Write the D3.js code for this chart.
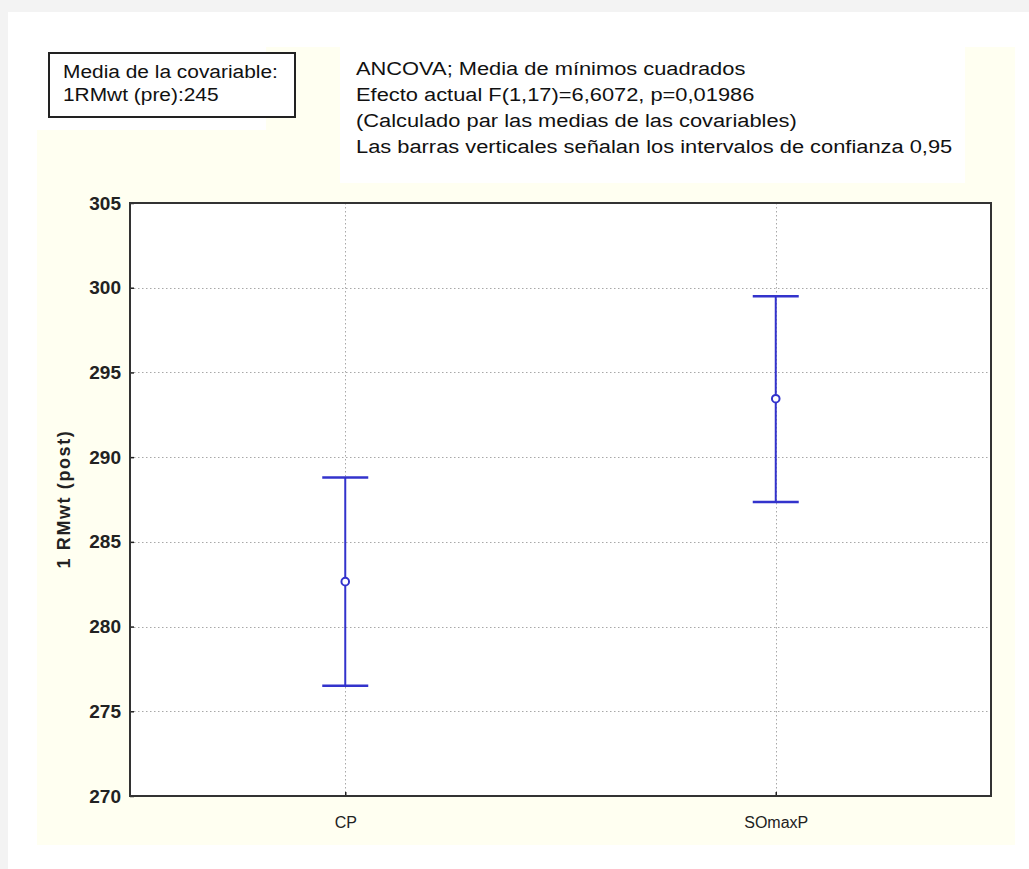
<!DOCTYPE html>
<html>
<head>
<meta charset="utf-8">
<script src="https://cdn.jsdelivr.net/npm/d3@7"></script>
<style>
  html, body { margin: 0; padding: 0; background: #f3f3f3; }
  svg { display: block; }
</style>
</head>
<body>
<svg id="chart" width="1029" height="869"></svg>
<script>
// Least-squares means with 95% confidence intervals
const categories = ["CP", "SOmaxP"];
const means = [282.65, 293.45];
const lowerCI = [276.5, 287.35];
const upperCI = [288.8, 299.5];
const yTicks = [270, 275, 280, 285, 290, 295, 300, 305];
const yLabel = "1 RMwt (post)";
const infoLines = [
  "ANCOVA; Media de mínimos cuadrados",
  "Efecto actual F(1,17)=6,6072, p=0,01986",
  "(Calculado par las medias de las covariables)",
  "Las barras verticales señalan los intervalos de confianza 0,95"
];
const covLines = ["Media de la covariable:", "1RMwt (pre):245"];

const svg = d3.select("#chart");
const font = "'Liberation Sans', Arial, sans-serif";
const blue = "#3333cc";

// page panels
svg.append("rect").attr("x", 8).attr("y", 12).attr("width", 1021).attr("height", 857).attr("fill", "#ffffff");
svg.append("rect").attr("x", 37).attr("y", 47).attr("width", 978).attr("height", 798).attr("fill", "#fffff1");
svg.append("rect").attr("x", 37).attr("y", 47).attr("width", 229).attr("height", 83).attr("fill", "#ffffff");
svg.append("rect").attr("x", 340).attr("y", 47).attr("width", 625).attr("height", 136).attr("fill", "#ffffff");

const plot = { left: 130, right: 991, top: 203, bottom: 796 };

const x = d3.scalePoint().domain(categories).range([plot.left, plot.right]).padding(0.5);
const y = d3.scaleLinear().domain([270, 305]).range([plot.bottom, plot.top]);

// plot background
svg.append("rect")
  .attr("x", plot.left).attr("y", plot.top)
  .attr("width", plot.right - plot.left).attr("height", plot.bottom - plot.top)
  .attr("fill", "#ffffff");

// dotted grid
const grid = svg.append("g").attr("stroke", "#a8a8a8").attr("stroke-width", 1).attr("stroke-dasharray", "1.5,2.5");
grid.selectAll("line.h").data(yTicks.filter(t => t > 270 && t < 305)).join("line")
  .attr("x1", plot.left).attr("x2", plot.right)
  .attr("y1", d => Math.round(y(d)) + 0.5).attr("y2", d => Math.round(y(d)) + 0.5);
grid.selectAll("line.v").data(categories).join("line")
  .attr("x1", d => Math.round(x(d)) + 0.5).attr("x2", d => Math.round(x(d)) + 0.5)
  .attr("y1", plot.top).attr("y2", plot.bottom);

// axes
const yAxis = svg.append("g")
  .attr("transform", `translate(${plot.left},0)`)
  .call(d3.axisLeft(y).tickValues(yTicks).tickSize(-4).tickPadding(9).tickFormat(d3.format("d")));
yAxis.select(".domain").remove();
yAxis.selectAll(".tick line").attr("stroke", "#222").attr("stroke-width", 1.5);
yAxis.selectAll(".tick text")
  .attr("font-family", font).attr("font-size", 19).attr("font-weight", "bold")
  .attr("fill", "#222");

const xAxis = svg.append("g")
  .attr("transform", `translate(0,${plot.bottom})`)
  .call(d3.axisBottom(x).tickSize(-4).tickPadding(21));
xAxis.select(".domain").remove();
xAxis.selectAll(".tick line").attr("stroke", "#222").attr("stroke-width", 1.5);
xAxis.selectAll(".tick text")
  .attr("font-family", font).attr("font-size", 16)
  .attr("fill", "#222");

// frame
svg.append("rect")
  .attr("x", plot.left).attr("y", plot.top)
  .attr("width", plot.right - plot.left).attr("height", plot.bottom - plot.top)
  .attr("fill", "none").attr("stroke", "#333").attr("stroke-width", 2);

// y-axis title
svg.append("text")
  .attr("transform", `translate(70,499) rotate(-90)`)
  .attr("text-anchor", "middle")
  .attr("font-family", font).attr("font-size", 18).attr("font-weight", "bold")
  .attr("letter-spacing", 1.6)
  .attr("fill", "#222")
  .text(yLabel);

// error bars
const capHalf = 23;
const bars = svg.append("g").attr("stroke", blue).attr("fill", "none");
categories.forEach((c, i) => {
  const cx = x(c);
  bars.append("line").attr("x1", cx).attr("x2", cx)
    .attr("y1", y(upperCI[i])).attr("y2", y(lowerCI[i])).attr("stroke-width", 2);
  bars.append("line").attr("x1", cx - capHalf).attr("x2", cx + capHalf)
    .attr("y1", y(upperCI[i])).attr("y2", y(upperCI[i])).attr("stroke-width", 2.5);
  bars.append("line").attr("x1", cx - capHalf).attr("x2", cx + capHalf)
    .attr("y1", y(lowerCI[i])).attr("y2", y(lowerCI[i])).attr("stroke-width", 2.5);
  bars.append("circle").attr("cx", cx).attr("cy", y(means[i])).attr("r", 3.8)
    .attr("fill", "#ffffff").attr("stroke-width", 2);
});

// covariate box
svg.append("rect").attr("x", 49).attr("y", 53).attr("width", 246).attr("height", 64)
  .attr("fill", "#ffffff").attr("stroke", "#222").attr("stroke-width", 2);
svg.append("g").attr("transform", "translate(63,0) scale(1.1,1)")
  .selectAll("text").data(covLines).join("text")
  .attr("x", 0).attr("y", (d, i) => 78 + i * 23)
  .attr("font-family", font).attr("font-size", 19).attr("fill", "#111")
  .text(d => d);

// info text (slightly condensed type, widened to the panel)
svg.append("g").attr("transform", "translate(356,0) scale(1.15,1)")
  .selectAll("text").data(infoLines).join("text")
  .attr("x", 0).attr("y", (d, i) => 75 + i * 26)
  .attr("font-family", font).attr("font-size", 19).attr("fill", "#111")
  .text(d => d);
</script>
</body>
</html>
